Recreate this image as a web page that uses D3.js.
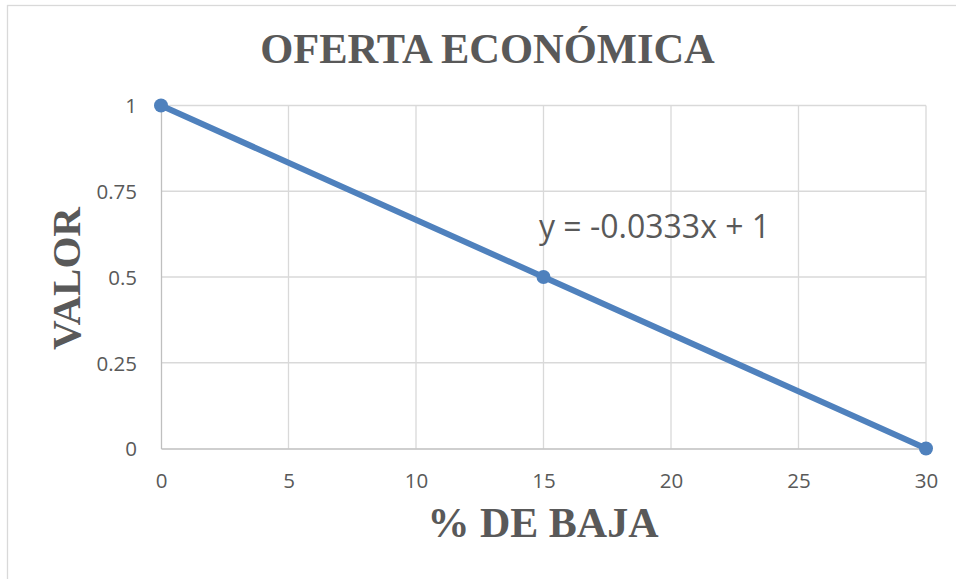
<!DOCTYPE html>
<html>
<head>
<meta charset="utf-8">
<script src="https://cdn.jsdelivr.net/npm/d3@7/dist/d3.min.js"></script>
<style>
  html, body { margin: 0; padding: 0; background: #ffffff; }
  svg { display: block; }
</style>
</head>
<body>
<svg id="chart" width="956" height="579"></svg>
<script>
// Data
const bajaPct = [0, 15, 30];
const valor = [1, 0.5, 0];
const xTicks = [0, 5, 10, 15, 20, 25, 30];
const yTicks = [0, 0.25, 0.5, 0.75, 1];
const yTickLabels = ["0", "0.25", "0.5", "0.75", "1"];
const titleText = "OFERTA ECONÓMICA";
const xTitle = "% DE BAJA";
const yTitle = "VALOR";
const equationText = "y = -0.0333x + 1";

const svg = d3.select("#chart");
const W = 956, H = 579;
const plot = { left: 161, right: 926, top: 105.5, bottom: 448.5 };

const x = d3.scaleLinear().domain([0, 30]).range([plot.left, plot.right]);
const y = d3.scaleLinear().domain([0, 1]).range([plot.bottom, plot.top]);

const textGray = "#595959";
const gridColor = "#d9d9d9";
const axisColor = "#bfbfbf";
const lineColor = "#4f81bd";

// Chart frame (left and top edges visible)
svg.append("rect")
  .attr("x", 7.5).attr("y", 5.5)
  .attr("width", W + 20).attr("height", H + 20)
  .attr("fill", "none").attr("stroke", gridColor).attr("stroke-width", 1.3);

// Gridlines
const grid = svg.append("g");
grid.selectAll("line.v").data(xTicks.filter(d => d !== 0)).join("line")
  .attr("x1", d => x(d)).attr("x2", d => x(d))
  .attr("y1", plot.top).attr("y2", plot.bottom)
  .attr("stroke", gridColor).attr("stroke-width", 1.3);
grid.selectAll("line.h").data(yTicks.filter(d => d !== 0)).join("line")
  .attr("x1", plot.left).attr("x2", plot.right)
  .attr("y1", d => y(d)).attr("y2", d => y(d))
  .attr("stroke", gridColor).attr("stroke-width", 1.3);

// Axes
const xAxis = d3.axisBottom(x).tickValues(xTicks).tickSize(0).tickPadding(0).tickFormat(d3.format("d"));
const gx = svg.append("g").attr("transform", `translate(0,${plot.bottom})`).call(xAxis);
gx.select(".domain").attr("stroke", axisColor).attr("stroke-width", 1.3);
gx.selectAll("text")
  .attr("dy", null).attr("y", 39)
  .attr("font-family", "'Open Sans', sans-serif").attr("font-size", 20.5)
  .attr("fill", textGray);

const yAxis = d3.axisLeft(y).tickValues(yTicks).tickSize(0).tickPadding(0)
  .tickFormat((d, i) => yTickLabels[i]);
const gy = svg.append("g").attr("transform", `translate(${plot.left},0)`).call(yAxis);
gy.select(".domain").attr("stroke", axisColor).attr("stroke-width", 1.3);
gy.selectAll("text")
  .attr("x", -24).attr("dy", "0.36em")
  .attr("font-family", "'Open Sans', sans-serif").attr("font-size", 20.5)
  .attr("fill", textGray);

// Series line and markers
const pts = bajaPct.map((d, i) => ({ x: d, y: valor[i] }));
svg.append("path").datum(pts)
  .attr("d", d3.line().x(d => x(d.x)).y(d => y(d.y)))
  .attr("fill", "none").attr("stroke", lineColor)
  .attr("stroke-width", 6).attr("stroke-linecap", "round");
svg.selectAll("circle.pt").data(pts).join("circle")
  .attr("cx", d => x(d.x)).attr("cy", d => y(d.y)).attr("r", 7)
  .attr("fill", lineColor);

// Trendline equation
svg.append("text")
  .attr("x", 539).attr("y", 238)
  .attr("font-family", "'Open Sans', sans-serif").attr("font-size", 32)
  .attr("fill", textGray)
  .text(equationText);

// Titles
const serif = "'Liberation Serif', 'Times New Roman', serif";
svg.append("text")
  .attr("x", 487.5).attr("y", 63).attr("text-anchor", "middle")
  .attr("font-family", serif).attr("font-weight", "bold").attr("font-size", 42.5)
  .attr("fill", textGray).text(titleText);

svg.append("text")
  .attr("x", 543).attr("y", 537).attr("text-anchor", "middle")
  .attr("font-family", serif).attr("font-weight", "bold").attr("font-size", 42)
  .attr("fill", textGray).text(xTitle);

svg.append("text")
  .attr("transform", "translate(80,278.5) rotate(-90)")
  .attr("text-anchor", "middle")
  .attr("font-family", serif).attr("font-weight", "bold").attr("font-size", 41)
  .attr("fill", textGray).text(yTitle);
</script>
</body>
</html>
